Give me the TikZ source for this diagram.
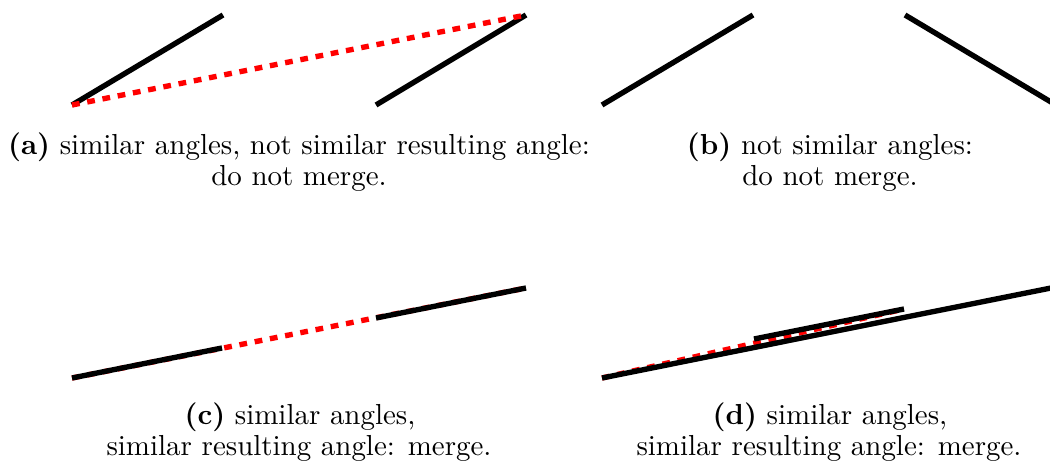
\documentclass[tikz,border=0pt]{standalone}
\begin{document}
\begin{tikzpicture}[x=0.34542pt,y=-0.34542pt,
  seg/.style={black, line width=1.85pt},
  merged/.style={red, line width=1.85pt, dash pattern=on 2.68pt off 2.68pt},
  captext/.style={anchor=base, inner sep=0pt}]
\useasboundingbox (0,0) rectangle (1050,471);
% (a)
\coordinate (a1) at (72,105);
\coordinate (a2) at (223,15);
\coordinate (a3) at (376,105);
\coordinate (a4) at (526,15);
\draw[seg] (a1) -- (a2);
\draw[seg] (a3) -- (a4);
\draw[merged] (a1) -- (a4);
\node[captext] (capa1) at (299,155) {\textbf{(a)} similar angles, not similar resulting angle:};
\node[captext] (capa2) at (299,186) {do not merge.};
% (b)
\coordinate (b1) at (602,105);
\coordinate (b2) at (753,15);
\coordinate (b3) at (905,15);
\coordinate (b4) at (1056,105);
\draw[seg] (b1) -- (b2);
\draw[seg] (b3) -- (b4);
\node[captext] (capb1) at (830,155) {\textbf{(b)} not similar angles:};
\node[captext] (capb2) at (830,186) {do not merge.};
% (c)
\coordinate (c1) at (72,378);
\coordinate (c2) at (222,348);
\coordinate (c3) at (376,318);
\coordinate (c4) at (526,288);
\draw[merged] (c1) -- (c4);
\draw[seg] (c1) -- (c2);
\draw[seg] (c3) -- (c4);
\node[captext] (capc1) at (300,425) {\textbf{(c)} similar angles,};
\node[captext] (capc2) at (299,456) {similar resulting angle: merge.};
% (d)
\coordinate (d1) at (602,378);
\coordinate (d2) at (1056,287);
\coordinate (d3) at (754,339);
\coordinate (d4) at (904,309);
\draw[merged] (d1) -- (d4);
\draw[seg] (d1) -- (d2);
\draw[seg] (d3) -- (d4);
\node[captext] (capd1) at (830,425) {\textbf{(d)} similar angles,};
\node[captext] (capd2) at (829,456) {similar resulting angle: merge.};
\end{tikzpicture}
\end{document}
